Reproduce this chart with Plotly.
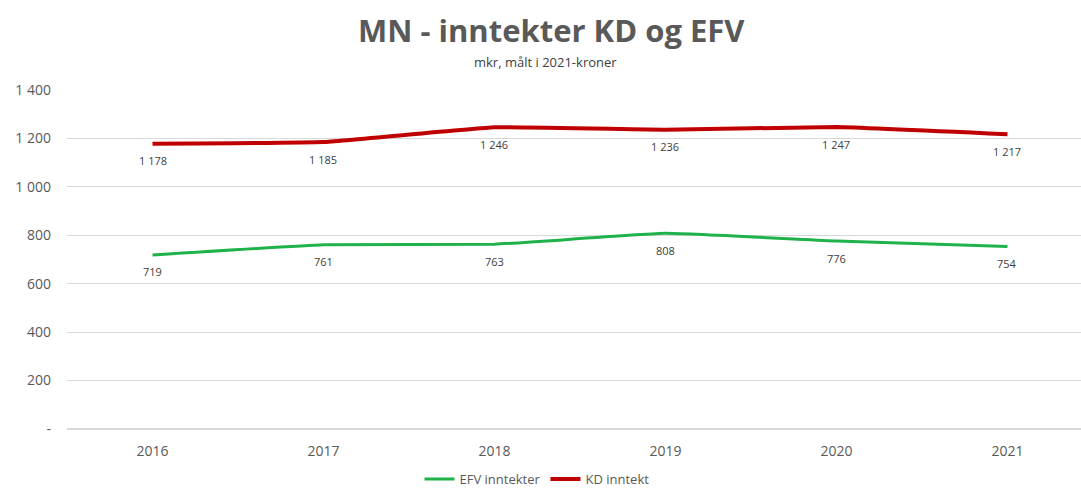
import plotly.graph_objects as go

years = ["2016", "2017", "2018", "2019", "2020", "2021"]
efv = [719, 761, 763, 808, 776, 754]
kd = [1178, 1185, 1246, 1236, 1247, 1217]
y_ticks = [0, 200, 400, 600, 800, 1000, 1200, 1400]
y_ticktext = ["-", "200", "400", "600", "800", "1 000", "1 200", "1 400"]

def fmt(v):
    return f"{v:,}".replace(",", " ")

L, R, T, B = 67, 0, 90, 59
W = 1081 - L - R
H = 488 - T - B

fig = go.Figure()
fig.add_trace(go.Scatter(
    x=years, y=efv, mode="lines", name="EFV inntekter",
    line=dict(color="#1fb24a", width=3, shape="spline", smoothing=0.3),
))
fig.add_trace(go.Scatter(
    x=years, y=kd, mode="lines", name="KD inntekt",
    line=dict(color="#c00000", width=4, shape="spline", smoothing=0.3),
))

annotations = []
for series in (efv, kd):
    for i, v in enumerate(series):
        annotations.append(dict(
            x=i, y=v, xref="x", yref="y", text=fmt(v), showarrow=False,
            yanchor="middle", yshift=-17,
            font=dict(family="Open Sans", size=11, color="#404040"),
        ))
annotations.append(dict(
    text="<b>MN - inntekter KD og EFV</b>", x=(551 - L) / W, y=(429 - 30) / H,
    xref="paper", yref="paper", xanchor="center", yanchor="middle", showarrow=False,
    font=dict(size=31, color="#595959", family="Open Sans"),
))
annotations.append(dict(
    text="mkr, målt i 2021-kroner", x=(545 - L) / W, y=(429 - 62) / H,
    xref="paper", yref="paper", xanchor="center", yanchor="middle", showarrow=False,
    font=dict(size=13, color="#404040", family="Open Sans"),
))

fig.update_layout(
    width=1081, height=488,
    margin=dict(l=L, r=R, t=T, b=B, autoexpand=False),
    paper_bgcolor="white", plot_bgcolor="white",
    font=dict(family="Open Sans", color="#595959"),
    showlegend=True,
    legend=dict(orientation="h", x=(537 - L) / W, xanchor="center", y=(429 - 479) / H, yanchor="middle",
                font=dict(size=13, color="#595959"), traceorder="normal",
                itemwidth=30, tracegroupgap=0),
    annotations=annotations,
)

fig.update_xaxes(
    type="category", range=[-0.5, 5.43], showgrid=False, showline=False, automargin=False,
    ticks="", tickfont=dict(size=14, color="#595959"), ticklabelstandoff=12,
)
fig.update_yaxes(
    range=[0, 1400], tickvals=y_ticks, ticktext=y_ticktext, automargin=False,
    showgrid=True, gridcolor="#d9d9d9", gridwidth=1, zeroline=True, zerolinecolor="#d9d9d9",
    showline=False, ticks="", tickfont=dict(size=14, color="#595959"), ticklabelstandoff=15,
)

fig.write_html("out.html", config={"displayModeBar": False},
               post_script="document.body.style.margin='0';")
